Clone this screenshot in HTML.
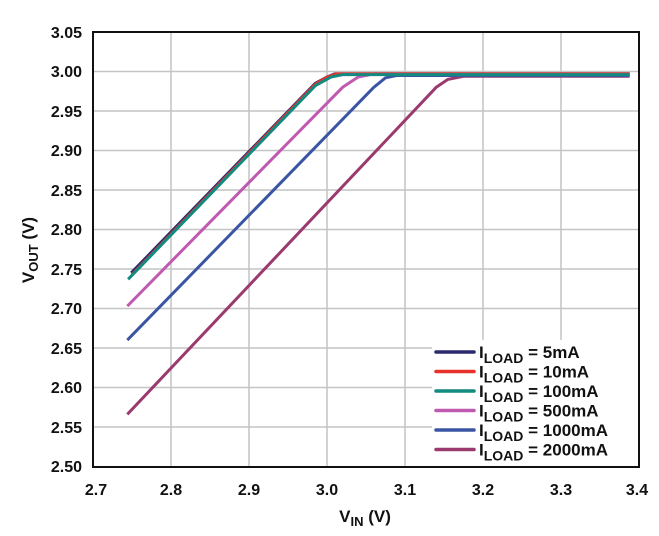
<!DOCTYPE html>
<html><head><style>
body{margin:0;background:#fff}
text{font-family:"Liberation Sans",Arial,sans-serif;font-weight:bold;fill:#111}
</style></head><body>
<svg width="659" height="531" viewBox="0 0 659 531" xmlns="http://www.w3.org/2000/svg">
<g stroke="#c4c4c4" stroke-width="1.5">
<line x1="171" y1="32" x2="171" y2="467"/><line x1="249" y1="32" x2="249" y2="467"/><line x1="327" y1="32" x2="327" y2="467"/><line x1="405" y1="32" x2="405" y2="467"/><line x1="483" y1="32" x2="483" y2="467"/><line x1="561" y1="32" x2="561" y2="467"/>
<line x1="93" y1="71.5" x2="639" y2="71.5"/><line x1="93" y1="111" x2="639" y2="111"/><line x1="93" y1="150.5" x2="639" y2="150.5"/><line x1="93" y1="190" x2="639" y2="190"/><line x1="93" y1="229.5" x2="639" y2="229.5"/><line x1="93" y1="269" x2="639" y2="269"/><line x1="93" y1="308.5" x2="639" y2="308.5"/><line x1="93" y1="348" x2="639" y2="348"/><line x1="93" y1="387.5" x2="639" y2="387.5"/><line x1="93" y1="427" x2="639" y2="427"/>
</g>
<g fill="none" stroke-width="3" stroke-linejoin="round" transform="matrix(780,0,0,-790,-2013,2441.5)">
<polyline vector-effect="non-scaling-stroke" stroke="#9b3a6e" points="2.744,2.566 3.14,2.98 3.155,2.99 3.175,2.994 3.388,2.994"/>
<polyline vector-effect="non-scaling-stroke" stroke="#3a55a4" points="2.744,2.66 3.06,2.98 3.075,2.992 3.09,2.995 3.388,2.995"/>
<polyline vector-effect="non-scaling-stroke" stroke="#c05ab0" points="2.744,2.703 3.02,2.98 3.04,2.993 3.06,2.997 3.388,2.997"/>
<polyline vector-effect="non-scaling-stroke" stroke="#2b2a6e" points="2.749,2.745 2.985,2.985 3.0,2.993 3.01,2.997 3.388,2.997"/>
<polyline vector-effect="non-scaling-stroke" stroke="#e8312a" points="2.75,2.743 2.985,2.984 3.0,2.993 3.012,2.997 3.388,2.997"/>
<polyline vector-effect="non-scaling-stroke" stroke="#138a7f" points="2.745,2.737 2.985,2.982 3.005,2.993 3.02,2.996 3.388,2.996"/>
</g>
<rect x="432" y="340" width="206" height="126" fill="#fff"/>
<rect x="93" y="32" width="546" height="435" fill="none" stroke="#111" stroke-width="2"/>
<g stroke-width="3.5" stroke-linecap="round">
<line x1="436" y1="352" x2="474" y2="352" stroke="#2b2a6e"/>
<line x1="436" y1="371.5" x2="474" y2="371.5" stroke="#e8312a"/>
<line x1="436" y1="391" x2="474" y2="391" stroke="#138a7f"/>
<line x1="436" y1="410.5" x2="474" y2="410.5" stroke="#c05ab0"/>
<line x1="436" y1="430" x2="474" y2="430" stroke="#3a55a4"/>
<line x1="436" y1="449.5" x2="474" y2="449.5" stroke="#9b3a6e"/>
</g>
<g font-size="17">
<text x="479" y="358">I<tspan font-size="14" dy="5">LOAD</tspan><tspan dy="-5"> = 5mA</tspan></text>
<text x="479" y="377.5">I<tspan font-size="14" dy="5">LOAD</tspan><tspan dy="-5"> = 10mA</tspan></text>
<text x="479" y="397">I<tspan font-size="14" dy="5">LOAD</tspan><tspan dy="-5"> = 100mA</tspan></text>
<text x="479" y="416.5">I<tspan font-size="14" dy="5">LOAD</tspan><tspan dy="-5"> = 500mA</tspan></text>
<text x="479" y="436">I<tspan font-size="14" dy="5">LOAD</tspan><tspan dy="-5"> = 1000mA</tspan></text>
<text x="479" y="455.5">I<tspan font-size="14" dy="5">LOAD</tspan><tspan dy="-5"> = 2000mA</tspan></text>
</g>
<g font-size="16" text-anchor="end">
<text x="82" y="38">3.05</text><text x="82" y="77">3.00</text><text x="82" y="117">2.95</text><text x="82" y="156">2.90</text><text x="82" y="196">2.85</text><text x="82" y="235">2.80</text><text x="82" y="275">2.75</text><text x="82" y="314">2.70</text><text x="82" y="354">2.65</text><text x="82" y="393">2.60</text><text x="82" y="433">2.55</text><text x="82" y="472">2.50</text>
</g>
<g font-size="16" text-anchor="middle">
<text x="96" y="495">2.7</text><text x="171" y="495">2.8</text><text x="249" y="495">2.9</text><text x="327" y="495">3.0</text><text x="405" y="495">3.1</text><text x="483" y="495">3.2</text><text x="561" y="495">3.3</text><text x="637" y="495">3.4</text>
</g>
<text x="365" y="522" font-size="17" text-anchor="middle">V<tspan font-size="13" dy="4">IN</tspan><tspan dy="-4"> (V)</tspan></text>
<text transform="translate(34,250) rotate(-90)" font-size="17" text-anchor="middle">V<tspan font-size="13" dy="4">OUT</tspan><tspan dy="-4"> (V)</tspan></text>
</svg>
</body></html>
